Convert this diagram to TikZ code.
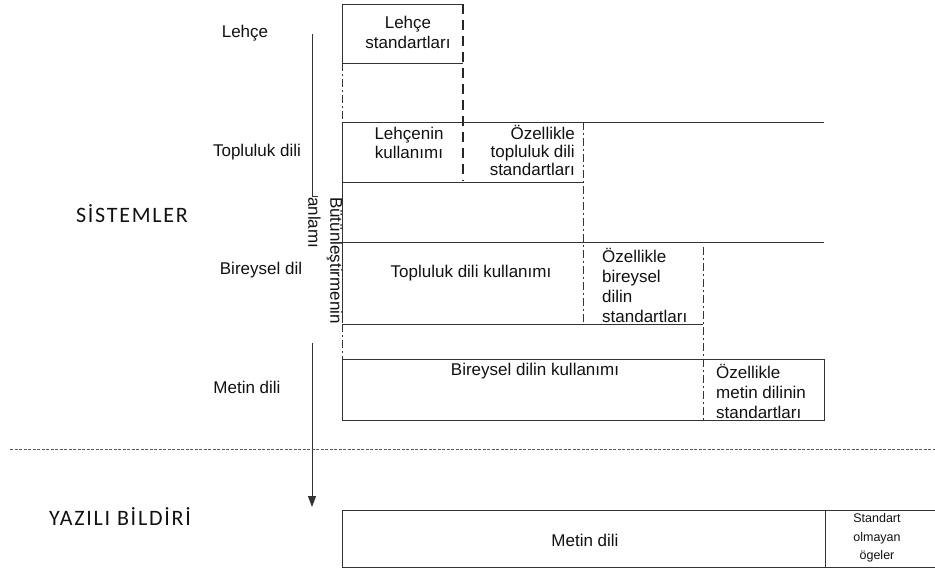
\documentclass[tikz,border=0pt]{standalone}
\usepackage{fontspec}
\setmainfont{Liberation Sans}
\newfontfamily\calibfont{Carlito}[LetterSpace=8]
\usetikzlibrary{arrows.meta}
\definecolor{linecol}{HTML}{333333}
\definecolor{txtcol}{HTML}{111111}
\begin{document}
\begin{tikzpicture}[x=1pt,y=-1pt,
  lbl/.style={inner sep=0pt, text=txtcol, font=\fontsize{17}{19}\selectfont},
  lblB/.style={lbl, font=\fontsize{17}{20}\selectfont},
  lblS/.style={inner sep=0pt, text=txtcol, font=\fontsize{12.5}{18.5}\selectfont},
  big/.style={inner sep=0pt, text=txtcol, font=\calibfont\fontsize{22}{26}\selectfont},
  solidln/.style={draw=linecol, line width=1pt},
  thickdash/.style={draw=black!85, line width=2.4pt, dash pattern=on 10pt off 6pt},
  dashdotln/.style={draw=linecol, line width=0.9pt, dash pattern=on 8pt off 3pt on 2pt off 3pt},
  sepline/.style={draw=black!65, line width=0.8pt, dash pattern=on 3pt off 1.5pt},
  flowarrow/.style={draw=linecol, line width=1pt, -{Triangle[width=8pt,length=11pt]}}
]
\useasboundingbox (0,0) rectangle (935,571);

% left labels
\node[lbl] (lehce) at (245,33) {Lehçe};
\node[lbl] (topl) at (257,152) {Topluluk dili};
\node[lbl] (bir) at (261,270) {Bireysel dil};
\node[lbl] (met) at (247,387) {Metin dili};
\node[big] (sis) at (132,214) {SİSTEMLER};
\node[big] (yaz) at (120,517) {YAZILI BİLDİRİ};

% flow line with vertical label
\coordinate (fa) at (312,34);
\coordinate (fb) at (312,196);
\coordinate (fbs) at (318,196);
\coordinate (fc) at (312,343);
\coordinate (fd) at (312,507);
\draw[solidln] (fa) -- (fb) -- (fbs);
\draw[flowarrow] (fc) -- (fd);
\node[lbl, font=\fontsize{17}{22}\selectfont, rotate=-90, anchor=north west, align=left] (vert) at (343,197) {Bütünleştirmenin\\anlamı};

% row 1: Lehce standartlari
\draw[solidln] (463,4) -- (342,4) -- (342,63) -- (463,63);
\draw[thickdash] (463,4) -- (463,181);
\draw[dashdotln] (342,63) -- (342,122);
\node[lblB, align=center] (ls) at (408,32) {Lehçe\\standartları};

% row 2
\draw[solidln] (342,122) -- (824,122);
\draw[solidln] (342,122) -- (342,323);
\draw[solidln] (342,182) -- (583,182);
\draw[dashdotln] (583,122) -- (583,324);
\node[lbl, align=center] (lk) at (409,143) {Lehçenin\\kullanımı};
\node[lbl, font=\fontsize{17}{18}\selectfont, align=right, anchor=east] (otd) at (575,150) {Özellikle\\topluluk dili\\standartları};

% row 3
\draw[solidln] (342,242) -- (824,242);
\draw[solidln] (342,324) -- (703,324);
\draw[dashdotln] (703,247) -- (703,420);
\node[lbl] (tdk) at (471,273) {Topluluk dili kullanımı};
\node[lblB, align=left, anchor=west] (obd) at (602,285) {Özellikle\\bireysel\\dilin\\standartları};

% row 4
\draw[dashdotln] (342,324) -- (342,359);
\draw[solidln] (342,359) rectangle (824,420);
\node[lbl] (bdk) at (535,371) {Bireysel dilin kullanımı};
\node[lblB, align=left, anchor=west] (omd) at (716,391) {Özellikle\\metin dilinin\\standartları};

% separator
\draw[sepline] (10,449) -- (935,449);

% bottom box
\draw[solidln] (938,510) -- (342,510) -- (342,567) -- (938,567);
\draw[solidln] (825,510) -- (825,567);
\node[lbl] (md) at (585,540) {Metin dili};
\node[lblS, align=center] (som) at (877,538) {Standart\\olmayan\\ögeler};
\end{tikzpicture}
\end{document}
